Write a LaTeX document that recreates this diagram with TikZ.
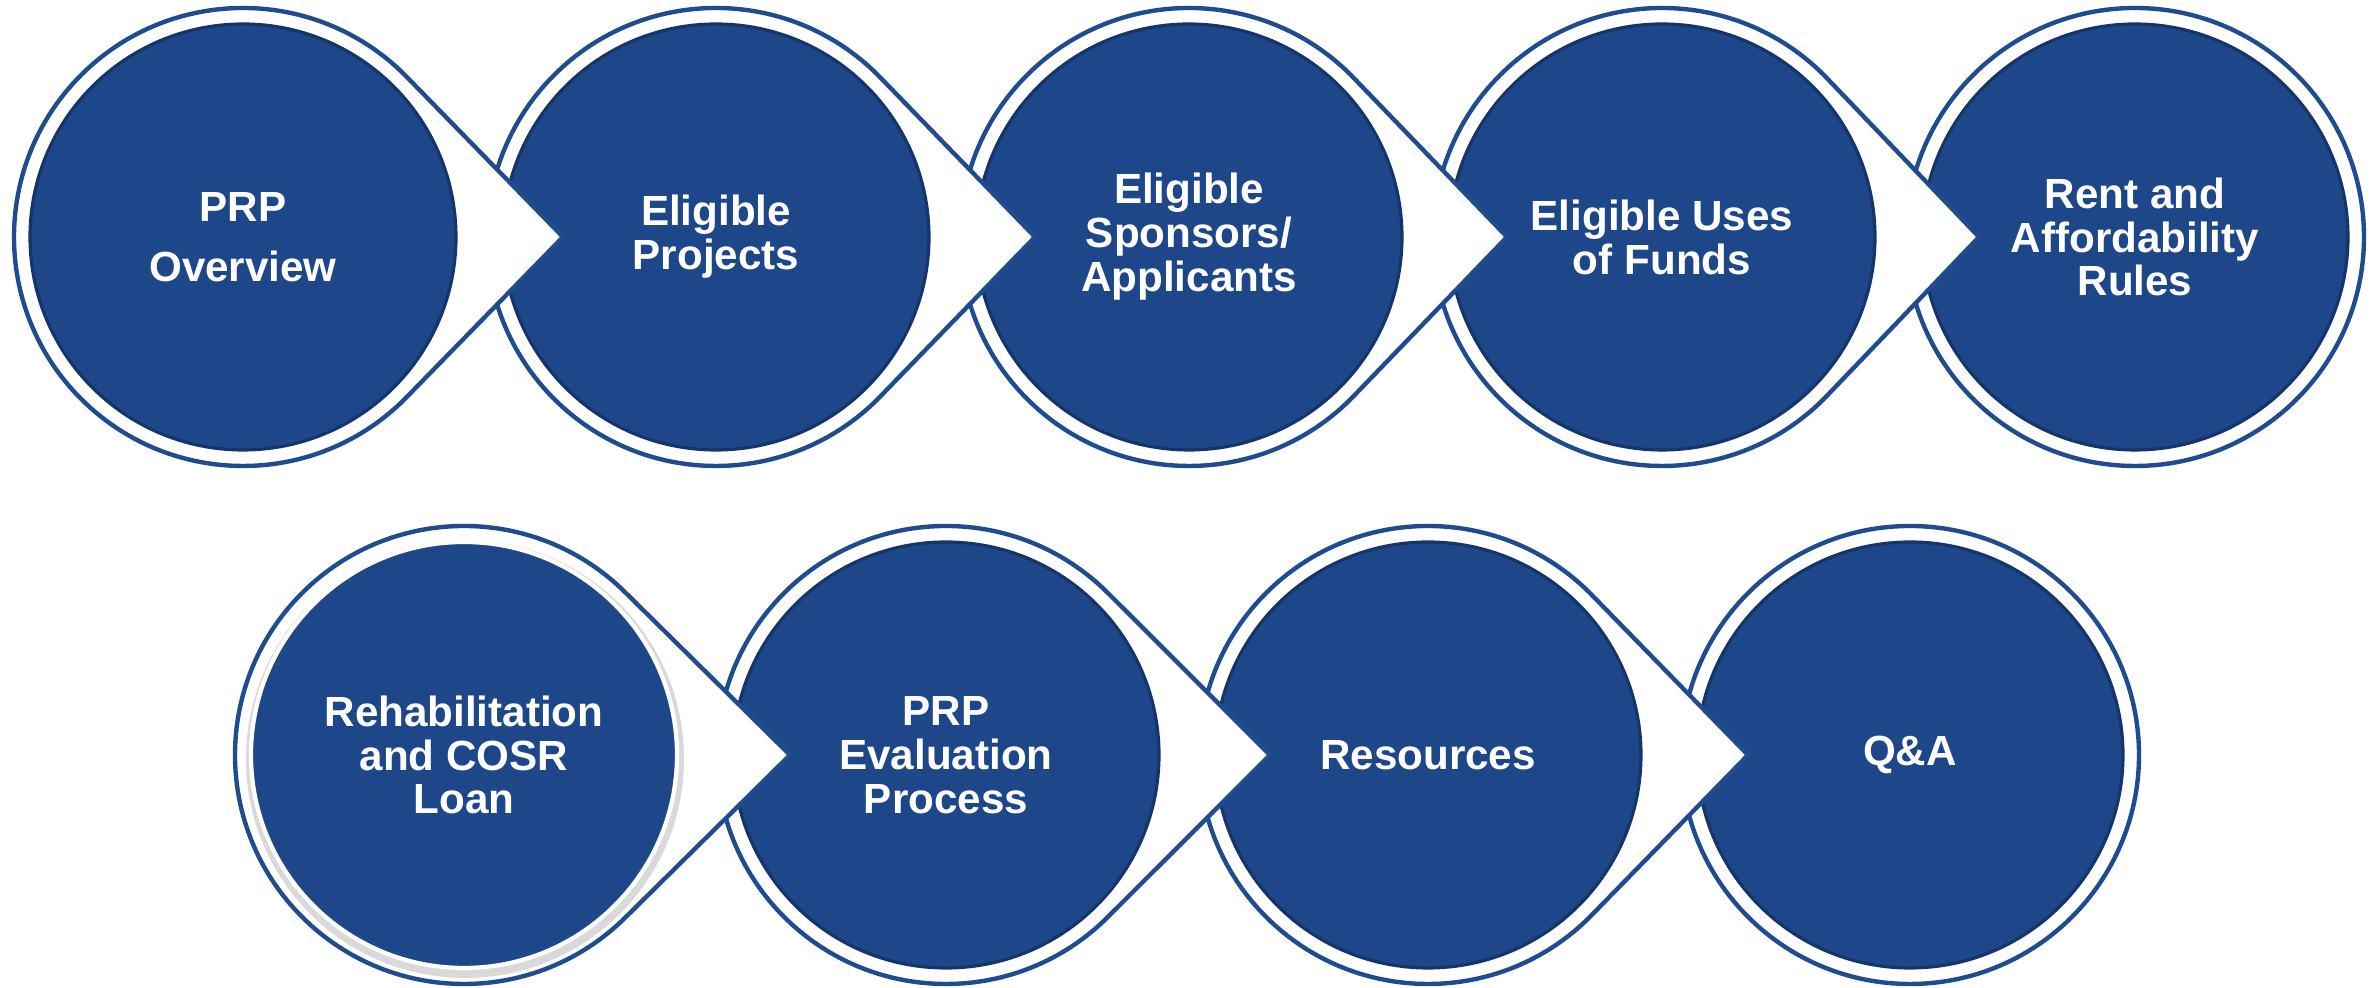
\documentclass[tikz,border=0pt]{standalone}
\usepackage{fontspec}
\setmainfont{Liberation Sans}
\usepackage{tikz}

\definecolor{prpfill}{HTML}{1D4788}
\definecolor{prpedge}{HTML}{15346A}
\definecolor{prpline}{HTML}{1F4C8E}

\tikzset{
  stage/.style={circle, fill=prpfill, draw=prpedge, line width=0.9pt,
    minimum size=4.26cm, inner sep=0pt, text=white, align=center,
    font=\bfseries\fontsize{12}{12.5}\selectfont},
  halo/.style={draw=prpline, fill=white, line width=1.25pt}
}

% outline ring with a point to the right
\newcommand{\haloarrow}[2]{%
  \draw[halo] ([shift={(45:2.29)}]#1) -- ([xshift=#2cm]#1)
    -- ([shift={(-45:2.29)}]#1) arc[start angle=-45, end angle=-315, radius=2.29cm] -- cycle;}
\newcommand{\haloring}[1]{\draw[halo] (#1) circle[radius=2.29cm];}

\begin{document}
\begin{tikzpicture}
\useasboundingbox (0,0) rectangle (23.72,9.88);

\coordinate (c1) at (2.43,7.51);
\coordinate (c2) at (7.16,7.51);
\coordinate (c3) at (11.89,7.51);
\coordinate (c4) at (16.62,7.51);
\coordinate (c5) at (21.35,7.51);
\coordinate (c6) at (4.64,2.33);
\coordinate (c7) at (9.46,2.33);
\coordinate (c8) at (14.28,2.33);
\coordinate (c9) at (19.10,2.33);

% top row, right to left so each point lies over the next disc
\haloring{c5}
\node[stage] (rent) at (c5) {Rent and\\Affordability\\Rules};
\haloarrow{c4}{3.17}
\node[stage] (uses) at (c4) {Eligible Uses\\of Funds};
\haloarrow{c3}{3.18}
\node[stage] (sponsors) at (c3) {Eligible\\Sponsors/\\Applicants};
\haloarrow{c2}{3.19}
\node[stage] (projects) at (c2) {Eligible\\Projects};
\haloarrow{c1}{3.20}
\node[stage] (overview) at (c1) {PRP\\[4.5pt]Overview};

% bottom row
\haloring{c9}
\node[stage] (qa) at (c9) {Q\&A};
\haloarrow{c8}{3.20}
\node[stage] (resources) at (c8) {Resources};
\haloarrow{c7}{3.24}
\node[stage] (evaluation) at (c7) {PRP\\Evaluation\\Process};
\haloarrow{c6}{3.26}
\fill[black!15] ([shift={(0.01,-0.04)}]c6) circle[radius=2.19cm];
\node[stage, draw=white, line width=1.2pt] (rehab) at (c6) {Rehabilitation\\and COSR\\Loan};
\end{tikzpicture}
\end{document}
